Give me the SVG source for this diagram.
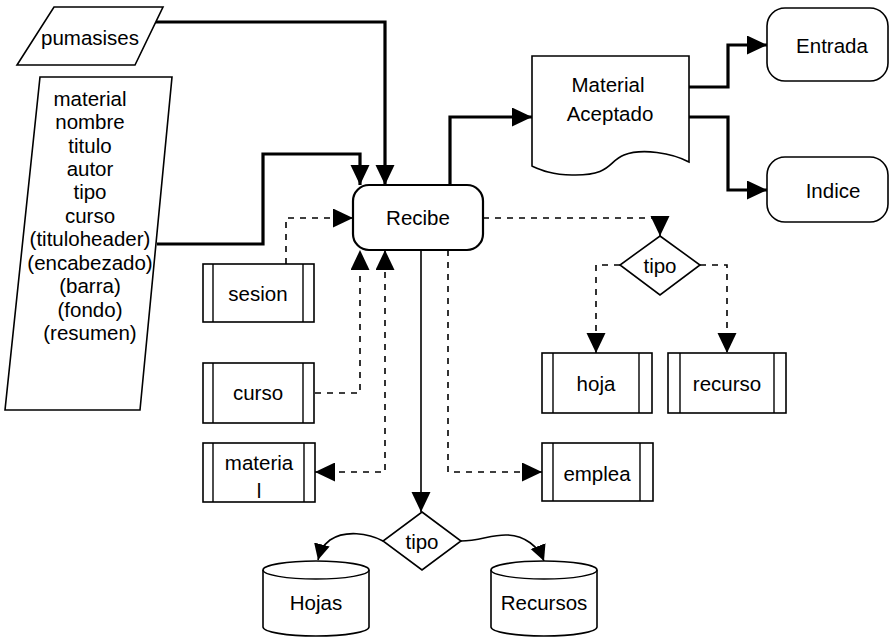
<svg xmlns="http://www.w3.org/2000/svg" width="890" height="638" viewBox="0 0 890 638">
  <style>
    .shape { fill: #fff; stroke: #000; stroke-width: 1.6; }
    .bold { fill: #fff; stroke: #000; stroke-width: 2.2; }
    .inner { fill: none; stroke: #000; stroke-width: 1.4; }
    .thick { fill: none; stroke: #000; stroke-width: 3.2; }
    .thin { fill: none; stroke: #000; stroke-width: 1.6; }
    .dash { fill: none; stroke: #000; stroke-width: 1.6; stroke-dasharray: 6 6; }
    text { font-family: "Liberation Sans", Arial, sans-serif; font-size: 20.5px; fill: #000; text-anchor: middle; dominant-baseline: central; }
  </style>
  <defs>
    <marker id="arrow" markerUnits="userSpaceOnUse" markerWidth="22" markerHeight="20" refX="20" refY="9.5" orient="auto">
      <path d="M0,0 L20,9.5 L0,19 Z" fill="#000"/>
    </marker>
    <marker id="arrowStart" markerUnits="userSpaceOnUse" markerWidth="22" markerHeight="20" refX="0" refY="9.5" orient="auto">
      <path d="M20,0 L0,9.5 L20,19 Z" fill="#000"/>
    </marker>
    <marker id="arrowSmall" markerUnits="userSpaceOnUse" markerWidth="18" markerHeight="18" refX="16" refY="8" orient="auto">
      <path d="M0,0 L16,8 L0,16 Z" fill="#000"/>
    </marker>
  </defs>

  <!-- connectors -->
  <g id="connectors">
    <!-- inputs into Recibe -->
    <polyline class="thick" points="156,22 385,22 385,185" marker-end="url(#arrow)"/>
    <polyline class="thick" points="157,244 263,244 263,154 360,154 360,185" marker-end="url(#arrow)"/>
    <!-- Recibe to Material Aceptado -->
    <polyline class="thick" points="450,185 450,117 532,117" marker-end="url(#arrow)"/>
    <!-- Material Aceptado outputs -->
    <polyline class="thick" points="689,87 728,87 728,45 767,45" marker-end="url(#arrow)"/>
    <polyline class="thick" points="689,117 728,117 728,190 767,190" marker-end="url(#arrow)"/>
    <!-- sesion -> Recibe -->
    <polyline class="dash" points="286,264 286,218 353,218" marker-end="url(#arrow)"/>
    <!-- curso -> Recibe -->
    <polyline class="dash" points="315,393 360,393 360,250" marker-end="url(#arrow)"/>
    <!-- materia <-> Recibe -->
    <polyline class="dash" points="315,472 385,472 385,250" marker-start="url(#arrowStart)" marker-end="url(#arrow)"/>
    <!-- Recibe -> emplea -->
    <polyline class="dash" points="448,250 448,472 542,472" marker-end="url(#arrow)"/>
    <!-- Recibe -> tipo (upper) -->
    <polyline class="dash" points="483,218 660,218 660,236" marker-end="url(#arrow)"/>
    <polyline class="dash" points="620,265 596,265 596,353" marker-end="url(#arrow)"/>
    <polyline class="dash" points="700,265 727,265 727,353" marker-end="url(#arrow)"/>
    <!-- Recibe -> tipo (lower) -->
    <line class="thin" x1="421" y1="250" x2="421" y2="512" marker-end="url(#arrow)"/>
    <path class="thin" d="M383,541 C368,533 345,530 330,540 C322,546 320,552 318,560" marker-end="url(#arrowSmall)"/>
    <path class="thin" d="M461,541 C480,541 492,534 508,535 C525,536 538,546 544,561" marker-end="url(#arrowSmall)"/>
  </g>

  <!-- data inputs -->
  <g id="pumasises">
    <polygon class="shape" points="54,7 163,7 135,65 17,65"/>
    <text x="90" y="37">pumasises</text>
  </g>
  <g id="campos">
    <polygon class="shape" points="40,77 172,77 140,410 5,410"/>
    <text x="90" y="98">material</text>
    <text x="90" y="121">nombre</text>
    <text x="90" y="145">titulo</text>
    <text x="90" y="168">autor</text>
    <text x="90" y="191">tipo</text>
    <text x="90" y="215">curso</text>
    <text x="90" y="238">(tituloheader)</text>
    <text x="90" y="262">(encabezado)</text>
    <text x="90" y="285">(barra)</text>
    <text x="90" y="309">(fondo)</text>
    <text x="90" y="332">(resumen)</text>
  </g>

  <!-- main process -->
  <g id="recibe">
    <rect class="bold" x="353" y="185" width="130" height="65" rx="16"/>
    <text x="418" y="217">Recibe</text>
  </g>

  <g id="material-aceptado">
    <path class="shape" d="M532,56 H689 V162 C672,153 642,148 624,155 C608,161 612,176 572,175 C552,175 541,170 532,166 Z"/>
    <text x="608" y="84">Material</text>
    <text x="610" y="113">Aceptado</text>
  </g>

  <g id="entrada">
    <rect class="shape" x="767" y="8" width="121" height="73" rx="18"/>
    <text x="832" y="45">Entrada</text>
  </g>
  <g id="indice">
    <rect class="shape" x="767" y="157" width="121" height="65" rx="18"/>
    <text x="833" y="190">Indice</text>
  </g>

  <!-- subprocesses -->
  <g id="sesion">
    <rect class="shape" x="203" y="264" width="111" height="58"/>
    <line class="inner" x1="213" y1="264" x2="213" y2="322"/>
    <line class="inner" x1="303" y1="264" x2="303" y2="322"/>
    <text x="258" y="293">sesion</text>
  </g>
  <g id="curso">
    <rect class="shape" x="203" y="363" width="111" height="60"/>
    <line class="inner" x1="213" y1="363" x2="213" y2="423"/>
    <line class="inner" x1="303" y1="363" x2="303" y2="423"/>
    <text x="258" y="392">curso</text>
  </g>
  <g id="materia">
    <rect class="shape" x="203" y="443" width="112" height="59"/>
    <line class="inner" x1="213" y1="443" x2="213" y2="502"/>
    <line class="inner" x1="304" y1="443" x2="304" y2="502"/>
    <text x="259" y="462">materia</text>
    <text x="259" y="490">l</text>
  </g>
  <g id="hoja">
    <rect class="shape" x="542" y="353" width="110" height="60"/>
    <line class="inner" x1="553" y1="353" x2="553" y2="413"/>
    <line class="inner" x1="639" y1="353" x2="639" y2="413"/>
    <text x="596" y="383">hoja</text>
  </g>
  <g id="recurso">
    <rect class="shape" x="668" y="353" width="118" height="60"/>
    <line class="inner" x1="680" y1="353" x2="680" y2="413"/>
    <line class="inner" x1="774" y1="353" x2="774" y2="413"/>
    <text x="727" y="383">recurso</text>
  </g>
  <g id="emplea">
    <rect class="shape" x="542" y="443" width="111" height="58"/>
    <line class="inner" x1="553" y1="443" x2="553" y2="501"/>
    <line class="inner" x1="640" y1="443" x2="640" y2="501"/>
    <text x="597" y="473">emplea</text>
  </g>

  <!-- decisions -->
  <g id="tipo-superior">
    <polygon class="shape" points="660,236 700,265 660,295 620,265"/>
    <text x="660" y="265">tipo</text>
  </g>
  <g id="tipo-inferior">
    <polygon class="shape" points="422,512 461,541 422,570 383,541"/>
    <text x="422" y="541">tipo</text>
  </g>

  <!-- stores -->
  <g id="hojas">
    <path class="shape" d="M263,570 A53,9 0 0 1 369,570 V627 A53,9 0 0 1 263,627 Z"/>
    <path class="inner" d="M263,570 A53,9 0 0 0 369,570"/>
    <text x="316" y="602">Hojas</text>
  </g>
  <g id="recursos">
    <path class="shape" d="M491,570 A53,9 0 0 1 597,570 V627 A53,9 0 0 1 491,627 Z"/>
    <path class="inner" d="M491,570 A53,9 0 0 0 597,570"/>
    <text x="544" y="602">Recursos</text>
  </g>
</svg>
